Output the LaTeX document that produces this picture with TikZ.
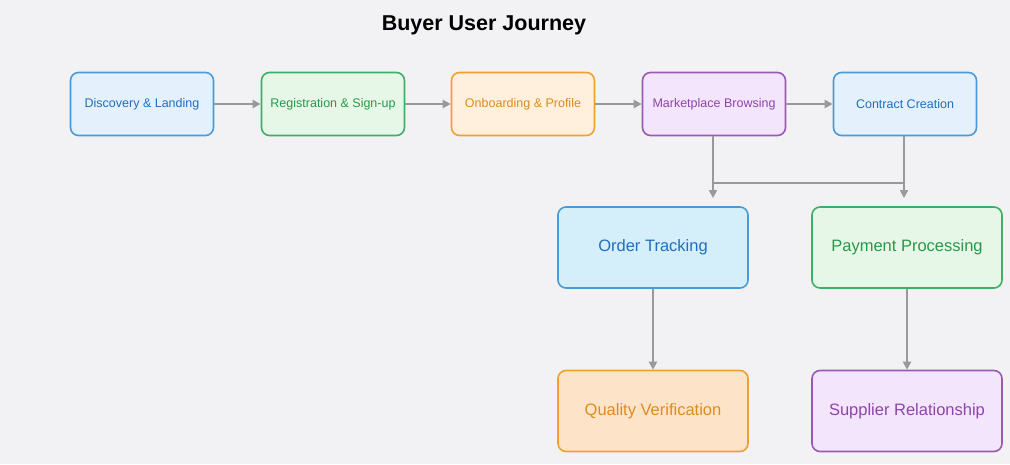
\documentclass[tikz,border=0pt]{standalone}
\usepackage{fontspec}
\setmainfont{Liberation Sans}
\usetikzlibrary{arrows.meta}
\definecolor{bg}{HTML}{F2F2F4}
\definecolor{bluB}{HTML}{4A9AD8}\definecolor{bluF}{HTML}{E4F1FD}\definecolor{bluT}{HTML}{1F6FC0}
\definecolor{cyaF}{HTML}{D4EFFA}
\definecolor{grnB}{HTML}{3CB066}\definecolor{grnF}{HTML}{E6F7E8}\definecolor{grnT}{HTML}{27994A}
\definecolor{orgB}{HTML}{F0A030}\definecolor{orgF}{HTML}{FEF0DC}\definecolor{orgT}{HTML}{E08A20}
\definecolor{orgF2}{HTML}{FDE4C8}
\definecolor{purB}{HTML}{9B59B6}\definecolor{purF}{HTML}{F3E5FB}\definecolor{purT}{HTML}{8E44AD}
\definecolor{arr}{HTML}{999999}
\begin{document}
\begin{tikzpicture}[x=1pt,y=-1pt,
  box/.style={draw,line width=1.6pt,rounded corners=8pt,minimum width=143pt,minimum height=63pt,inner sep=0pt,font=\fontsize{12.5}{14}\selectfont},
  bigbox/.style={box,minimum width=190pt,minimum height=81pt,font=\fontsize{16.5}{19}\selectfont},
  con/.style={draw=arr,line width=2pt,-{Triangle[length=8pt,width=8pt]}},
  lin/.style={draw=arr,line width=2pt}]
\fill[bg] (0,0) rectangle (1010,464);
\useasboundingbox (0,0) rectangle (1010,464);
\node[font=\bfseries\fontsize{21.5}{24}\selectfont] (title) at (484,25) {Buyer User Journey};
\node[box,draw=bluB,fill=bluF,text=bluT] (d) at (142,104) {\raisebox{-1pt}{Discovery \& Landing}};
\node[box,draw=grnB,fill=grnF,text=grnT] (r) at (333,104) {\raisebox{-1pt}{Registration \& Sign-up}};
\node[box,draw=orgB,fill=orgF,text=orgT] (o) at (523,104) {\raisebox{-1pt}{Onboarding \& Profile}};
\node[box,draw=purB,fill=purF,text=purT] (m) at (714,104) {\raisebox{-1pt}{Marketplace Browsing}};
\node[box,draw=bluB,fill=bluF,text=bluT] (c) at (905,104) {\raisebox{-1pt}{Contract Creation}};
\node[bigbox,draw=bluB,fill=cyaF,text=bluT] (t) at (653,247.5) {Order Tracking};
\node[bigbox,draw=grnB,fill=grnF,text=grnT] (p) at (907,247.5) {Payment Processing};
\node[bigbox,draw=orgB,fill=orgF2,text=orgT] (q) at (653,411) {Quality Verification};
\node[bigbox,draw=purB,fill=purF,text=purT] (s) at (907,411) {Supplier Relationship};
\draw[con] (d) -- (r);
\draw[con] (r) -- (o);
\draw[con] (o) -- (m);
\draw[con] (m) -- (c);
\coordinate (mj) at (713,183);
\coordinate (cj) at (904,183);
\coordinate (me) at (713,198);
\coordinate (ce) at (904,198);
\draw[lin] (m.south -| mj) -- (mj) -- (cj);
\draw[lin] (c.south -| cj) -- (cj);
\draw[con] (mj) -- (me);
\draw[con] (cj) -- (ce);
\draw[con] (t) -- (q);
\draw[con] (p) -- (s);
\end{tikzpicture}
\end{document}
